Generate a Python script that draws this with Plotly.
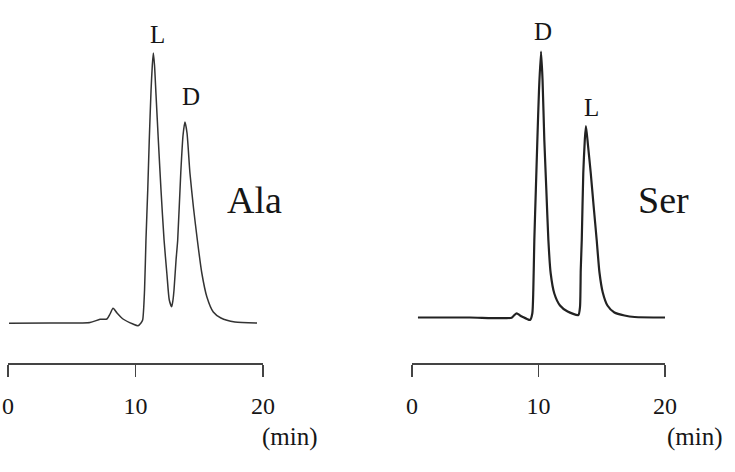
import plotly.graph_objects as go

# Ala chromatogram (time in min, detector signal in arbitrary units)
ala_time = [0.08, 3.29, 6.43, 7.22, 7.76, 8.0, 8.24, 8.55, 9.02, 9.8, 10.2, 10.43, 10.56,
            10.71, 10.82, 10.96, 11.08, 11.22, 11.32, 11.40, 11.49, 11.61, 11.79, 12.0,
            12.24, 12.47, 12.65, 12.84, 12.94, 13.02, 13.18, 13.31, 13.55, 13.73, 13.88,
            14.04, 14.27, 14.55, 14.85, 15.2, 15.6, 16.1, 16.7, 17.80, 19.53]
ala_signal = [-0.3, 0, 0.5, 3.7, 4, 9, 14.7, 10, 4, -1, -2.7, 0, 3,
              33, 83, 133, 183, 233, 258, 270, 258, 228, 183, 133,
              83, 48, 23, 16.3, 23, 33, 63, 83, 150, 188, 201,
              190, 150, 115, 83, 50, 26, 11, 5, 1, 0]

# Ser chromatogram
ser_time = [0.47, 4.58, 7.88, 8.06, 8.28, 8.54, 8.81, 9.09, 9.33, 9.51, 9.59, 9.67, 9.79,
            9.91, 10.04, 10.20, 10.32, 10.46, 10.62, 10.78, 10.96, 11.25, 11.7, 12.3,
            13.15, 13.28, 13.34, 13.42, 13.54, 13.66, 13.75, 13.91, 14.13, 14.35, 14.60,
            14.82, 15.08, 15.45, 16.0, 16.8, 17.6, 20.0]
ser_signal = [0, 0, -0.2, 2, 4.2, 2, 0.2, -1.5, -2.5, 4, 27.5, 77.5, 127.5,
              177.5, 227.5, 265.8, 237.5, 177.5, 127.5, 77.5, 44.5, 24, 12, 6,
              2.5, 10.5, 47.5, 77.5, 144.5, 177.5, 191.5, 172.5, 144.5, 112.5, 77.5,
              45, 25, 12, 5, 2, 0.5, 0]

tick_vals = [0, 10, 20]
tick_text = ["0", "10", "20"]

W, H = 735, 472
FONT = "Liberation Serif, Times New Roman, serif"
INK = "#161616"

fig = go.Figure()
fig.add_trace(go.Scatter(x=ala_time, y=ala_signal, mode="lines", xaxis="x", yaxis="y",
                         line=dict(color="#333333", width=1.5, shape="spline", smoothing=0.6),
                         hoverinfo="skip"))
fig.add_trace(go.Scatter(x=ser_time, y=ser_signal, mode="lines", xaxis="x2", yaxis="y2",
                         line=dict(color="#222222", width=2.2, shape="spline", smoothing=0.6),
                         hoverinfo="skip"))

ydom = [1 - 363 / H, 1.0]
xcommon = dict(range=[0, 20], showgrid=False, zeroline=False, showline=True,
               linecolor="#444444", linewidth=1.5, ticks="outside", ticklen=12,
               tickwidth=1.5, tickcolor="#444444", tickvals=tick_vals, ticktext=tick_text,
               tickfont=dict(family=FONT, size=24, color=INK), ticklabelstandoff=9,
               automargin=False, fixedrange=True)
ycommon = dict(visible=False, showgrid=False, zeroline=False, fixedrange=True,
               automargin=False)

fig.update_layout(
    width=W, height=H,
    margin=dict(l=0, r=0, t=0, b=0, autoexpand=False),
    paper_bgcolor="white", plot_bgcolor="white",
    showlegend=False,
    xaxis=dict(domain=[8 / W, 263 / W], anchor="y", **xcommon),
    xaxis2=dict(domain=[412 / W, 665 / W], anchor="y2", **xcommon),
    yaxis=dict(domain=ydom, range=[-40, 323], anchor="x", **ycommon),
    yaxis2=dict(domain=ydom, range=[-45.5, 317.5], anchor="x2", **ycommon),
)

def ann(text, x, y, xref, yref, size):
    fig.add_annotation(text=text, x=x, y=y, xref=xref, yref=yref, showarrow=False,
                       xanchor="center", yanchor="middle",
                       font=dict(family=FONT, size=size, color=INK))

ann("L", 11.76, 289, "x", "y", 25)
ann("D", 14.35, 227, "x", "y", 25)
ann("Ala", 19.37, 123, "x", "y", 38)
ann("D", 10.36, 286.5, "x2", "y2", 25)
ann("L", 14.15, 210.5, "x2", "y2", 25)
ann("Ser", 19.92, 117.5, "x2", "y2", 38)
ann("(min)", 290 / W, 1 - 437 / H, "paper", "paper", 25)
ann("(min)", 695 / W, 1 - 437 / H, "paper", "paper", 25)

fig.write_html("out.html", config=dict(displayModeBar=False, staticPlot=True))
